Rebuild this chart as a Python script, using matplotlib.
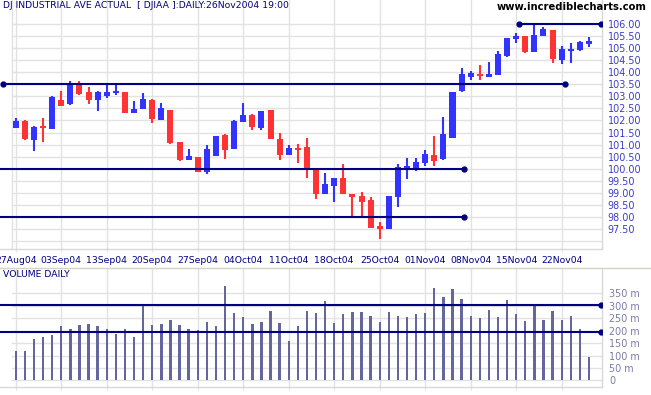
#!/usr/bin/env python3
"""
DJIA daily candlestick chart with volume panel (Aug - Nov 2004).
"""

import matplotlib
matplotlib.use('Agg')
import matplotlib.pyplot as plt

# Daily bars, 27Aug04 .. 26Nov04 (DJIA / 100)
opens = [101.70, 101.98, 101.19, 101.78, 101.65, 102.84, 102.67, 103.50, 103.18, 102.86,
         103.03, 103.14, 103.18, 102.32, 102.49, 102.85, 102.02, 102.43, 101.11, 100.37,
         100.49, 99.88, 100.54, 101.40, 100.82, 101.95, 102.23, 101.70, 102.43, 101.24,
         100.58, 100.85, 100.90, 100.02, 98.96, 99.30, 99.60, 98.94, 98.88, 98.70,
         97.63, 97.51, 98.84, 99.98, 99.95, 100.25, 100.56, 100.39, 101.29, 103.21,
         103.82, 103.93, 103.82, 103.90, 104.69, 105.37, 105.50, 104.84, 105.50, 105.74,
         104.51, 104.87, 104.92, 105.17]
highs = [102.09, 102.00, 101.75, 102.09, 103.02, 103.22, 103.64, 103.64, 103.38, 103.22,
         103.50, 103.47, 103.20, 102.81, 103.14, 102.87, 102.71, 102.45, 101.12, 100.82,
         100.50, 100.98, 101.37, 101.45, 102.00, 102.72, 102.25, 102.40, 102.45, 101.48,
         100.98, 101.02, 101.27, 100.03, 99.82, 99.62, 100.20, 98.96, 99.02, 98.81,
         97.79, 98.88, 100.20, 100.44, 100.46, 100.78, 101.36, 102.13, 103.19, 104.16,
         104.05, 104.30, 104.41, 104.87, 105.43, 105.61, 105.51, 106.03, 105.88, 105.76,
         105.10, 105.20, 105.29, 105.46]
lows = [101.68, 101.20, 100.75, 101.12, 101.63, 102.60, 102.65, 103.07, 102.70, 102.39,
        102.95, 103.06, 102.30, 102.30, 102.48, 101.91, 102.00, 101.01, 100.32, 100.36,
        99.87, 99.79, 100.53, 100.40, 100.80, 101.94, 101.61, 101.61, 101.22, 100.37,
        100.57, 100.22, 99.60, 98.76, 98.95, 98.63, 98.95, 98.04, 98.01, 97.53,
        97.10, 97.50, 98.43, 99.56, 99.90, 100.13, 100.13, 100.38, 101.28, 103.20,
        103.67, 103.68, 103.81, 103.89, 104.64, 105.20, 104.80, 104.83, 105.49, 104.40,
        104.34, 104.40, 104.87, 105.03]
closes = [101.98, 101.23, 101.73, 101.70, 102.99, 102.61, 103.47, 103.11, 102.85, 103.18,
          103.18, 103.22, 102.32, 102.48, 102.89, 102.05, 102.50, 101.08, 100.36, 100.51,
          99.88, 100.80, 101.36, 100.78, 101.98, 102.23, 101.74, 102.39, 101.24, 100.56,
          100.86, 100.77, 99.99, 98.94, 99.35, 99.60, 98.96, 98.84, 98.63, 97.55,
          97.49, 98.87, 100.06, 100.10, 100.29, 100.60, 100.33, 101.44, 103.17, 103.91,
          103.96, 103.86, 103.91, 104.74, 105.42, 105.52, 104.83, 105.54, 105.79, 104.55,
          104.96, 104.96, 105.27, 105.28]
# volume in millions
volumes = [120, 120, 167, 176, 183, 220, 208, 224, 228, 220,
           208, 188, 208, 176, 304, 224, 228, 245, 224, 208,
           204, 237, 220, 382, 273, 257, 228, 237, 281, 233,
           160, 220, 281, 273, 320, 233, 267, 277, 277, 259,
           237, 277, 259, 257, 267, 273, 374, 336, 370, 329,
           259, 253, 284, 257, 324, 267, 239, 304, 243, 280,
           243, 259, 207, 94]

# weekly date ticks (bar index) and labels
tick_idx = [0, 5, 10, 15, 20, 25, 30, 35, 40, 45, 50, 55, 60]
tick_labels = ['27Aug04', '03Sep04', '13Sep04', '20Sep04', '27Sep04', '04Oct04', '11Oct04',
               '18Oct04', '25Oct04', '01Nov04', '08Nov04', '15Nov04', '22Nov04']

price_ticks = [106.0 - 0.5 * k for k in range(18)]
price_labels = [f'{p:.2f}' for p in price_ticks]
vol_ticks = [350, 300, 250, 200, 150, 100, 50, 0]
vol_labels = [f'{v} m' if v else '0' for v in vol_ticks]

# trend / support lines: (level, start index, end index, dot at start, dot at end)
price_lines = [(103.5, -1.36, 60.4, True, True),
               (100.0, -2.0, 49.3, False, True),
               (98.0, -2.0, 49.3, False, True),
               (106.0, 55.3, 64.3, True, True)]
vol_lines = [(302, -2.0, 64.3), (196, -2.0, 64.3)]

UP = '#3333ff'
DOWN = '#ff3333'
NAVY = '#000080'
GRID = '#e2e2e2'
FS = 6.7

W, H = 651, 395
fig = plt.figure(figsize=(W / 100, H / 100), dpi=100)
fig.patch.set_facecolor('white')


def rect(x0, y0, x1, y1):
    # pixel box (top-left origin) -> figure fraction
    return [x0 / W, 1 - y1 / H, (x1 - x0) / W, (y1 - y0) / H]


XLIM = (-1.73, 64.43)
grid_x0 = (12 / 602)

# ---- price panel ----
ax = fig.add_axes(rect(0, 0, 602, 249))
ax.set_xlim(*XLIM)
ax.set_ylim(96.67, 106.995)
for s in ['top', 'left']:
    ax.spines[s].set_visible(False)
for s in ['bottom', 'right']:
    ax.spines[s].set_color('#d8d8d8')
    ax.spines[s].set_linewidth(1.0)

for p in [97.0] + price_ticks:
    ax.axhline(p, xmin=grid_x0, color=GRID, lw=1.0, zorder=0)
for t in tick_idx:
    ax.axvline(t, color=GRID, lw=1.0, zorder=0)
ax.axvline(-1.73 + 12 / 9.1, color=GRID, lw=1.0, zorder=0)

for i in range(len(opens)):
    col = UP if closes[i] >= opens[i] else DOWN
    ax.vlines(i, lows[i], highs[i], color=col, lw=1.5, zorder=3)
    body = closes[i] - opens[i]
    if abs(body) < 0.07:
        body = 0.07 if body >= 0 else -0.07
    ax.bar(i, body, bottom=opens[i], width=0.66, color=col, lw=0, zorder=3)

for lvl, x0, x1, d0, d1 in price_lines:
    ax.plot([x0, x1], [lvl, lvl], color=NAVY, lw=1.5, zorder=4, solid_capstyle='butt')
    dots = [x for x, d in ((x0, d0), (x1, d1)) if d]
    ax.plot(dots, [lvl] * len(dots), 'o', color=NAVY, ms=3.5, zorder=5)

ax.yaxis.tick_right()
ax.set_yticks(price_ticks)
ax.set_yticklabels(price_labels)
ax.tick_params(axis='y', length=0, pad=4, labelsize=6.9, labelcolor='#3c3cc8')
ax.set_xticks(tick_idx)
ax.set_xticklabels(tick_labels)
ax.tick_params(axis='x', length=2, color=GRID, pad=3, labelsize=FS, labelcolor=NAVY)

fig.text(3 / W, 1 - 6 / H, 'DJ INDUSTRIAL AVE ACTUAL  [ DJIAA ]:DAILY:26Nov2004 19:00',
         fontsize=FS, color=NAVY, va='center', ha='left')
fig.text(647 / W, 1 - 7.5 / H, 'www.incrediblecharts.com', fontsize=7.2,
         fontweight='bold', color='black', va='center', ha='right')

# separator between panels
fig.add_artist(plt.Line2D([0, 1], [1 - 268 / H, 1 - 268 / H], color='#d4d2c4', lw=1.0))

# ---- volume panel ----
axv = fig.add_axes(rect(0, 268, 602, 387))
axv.set_xlim(*XLIM)
axv.set_ylim(-27, 452.8)
for s in ['top', 'left']:
    axv.spines[s].set_visible(False)
for s in ['bottom', 'right']:
    axv.spines[s].set_color('#d8d8d8')
    axv.spines[s].set_linewidth(1.0)

for v in vol_ticks:
    axv.axhline(v, xmin=grid_x0, color=GRID, lw=1.0, zorder=0)
for t in tick_idx:
    axv.axvline(t, color=GRID, lw=1.0, zorder=0)

axv.bar(range(len(volumes)), volumes, width=0.26, color='#66669e', lw=0, zorder=3)

for lvl, x0, x1 in vol_lines:
    axv.plot([x0, x1], [lvl, lvl], color=NAVY, lw=1.5, zorder=4, solid_capstyle='butt')
    axv.plot([x1], [lvl], 'o', color=NAVY, ms=3.5, zorder=5)

axv.yaxis.tick_right()
axv.set_yticks(vol_ticks)
axv.set_yticklabels(vol_labels)
axv.tick_params(axis='y', length=0, pad=5, labelsize=6.9, labelcolor='#7a7aa8')
axv.set_xticks(tick_idx)
axv.set_xticklabels([])
axv.tick_params(axis='x', length=2, color=GRID)

axv.text(3 / 602, 1 - 6.5 / 119, 'VOLUME DAILY', transform=axv.transAxes,
         fontsize=FS, color=NAVY, va='center', ha='left')

plt.savefig('out.png', dpi=100)
